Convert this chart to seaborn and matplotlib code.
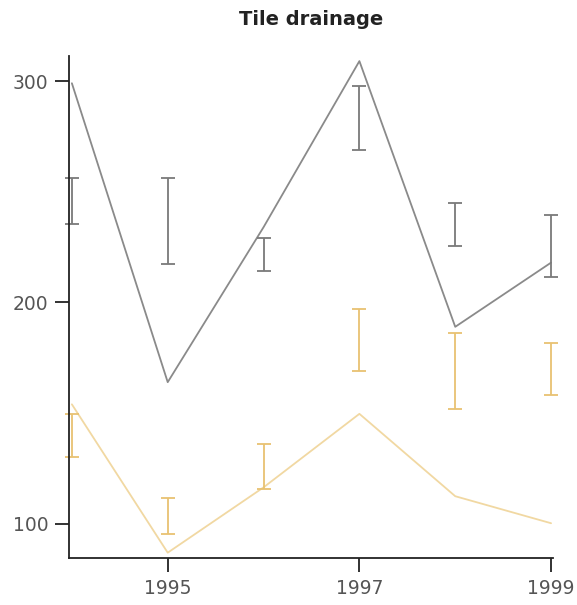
import matplotlib
matplotlib.use("Agg")
import matplotlib.pyplot as plt
import seaborn as sns
import pandas as pd
import numpy as np

years = [1994, 1995, 1996, 1997, 1998, 1999]
gray_line = [299, 164, 234, 309, 189, 218]
gray_err_low = [235.4, 217.2, 214, 269, 225.3, 211.3]
gray_err_high = [256.2, 256.2, 229.3, 297.9, 245, 239.7]
tan_line = [154, 87, 116.5, 149.7, 112.5, 100.3]
tan_err_low = [130.4, 95.4, 115.8, 169.2, 152, 158.4]
tan_err_high = [149.5, 111.6, 136.1, 197.1, 186.3, 181.8]

sns.set_theme(style="ticks")
plt.rcParams['font.family'] = ['DejaVu Sans']

fig = plt.figure(figsize=(5.77, 6.05), dpi=100)
ax = fig.add_axes([69/577, 47/605, (553-69)/577, (558-56)/605])

df = pd.DataFrame({"year": years + years,
                   "value": gray_line + tan_line,
                   "series": ["gray"] * 6 + ["tan"] * 6})
sns.lineplot(data=df, x="year", y="value", hue="series",
             palette={"gray": "#8a8a8a", "tan": "#f1d8a2"},
             linewidth=1.3, legend=False, ax=ax)

for lo, hi, col in [(gray_err_low, gray_err_high, "#7a7a7a"),
                    (tan_err_low, tan_err_high, "#e8c272")]:
    lo = np.array(lo); hi = np.array(hi)
    mid = (lo + hi) / 2
    cont = ax.errorbar(years, mid, yerr=(hi - lo) / 2, fmt="none", ecolor=col,
                       elinewidth=1.3, capsize=5, capthick=1.3)
    for art in cont.get_children():
        art.set_clip_on(False)

ax.set_xlim(1993.97, 1999.02)
ax.set_ylim(84.6, 311.3)
ax.set_xticks([1995, 1997, 1999])
ax.set_yticks([100, 200, 300])
ax.set_xlabel("")
ax.set_ylabel("")
sns.despine(ax=ax)
for s in ["left", "bottom"]:
    ax.spines[s].set_color("#222222")
    ax.spines[s].set_linewidth(1.3)
ax.tick_params(axis="both", direction="out", length=10, width=1.3,
               color="#222222", labelcolor="#555555", labelsize=13.5, pad=5)
ax.set_title("Tile drainage", fontsize=14, fontweight="bold", pad=22, color="#222222")

fig.savefig("out.png", dpi=100)
